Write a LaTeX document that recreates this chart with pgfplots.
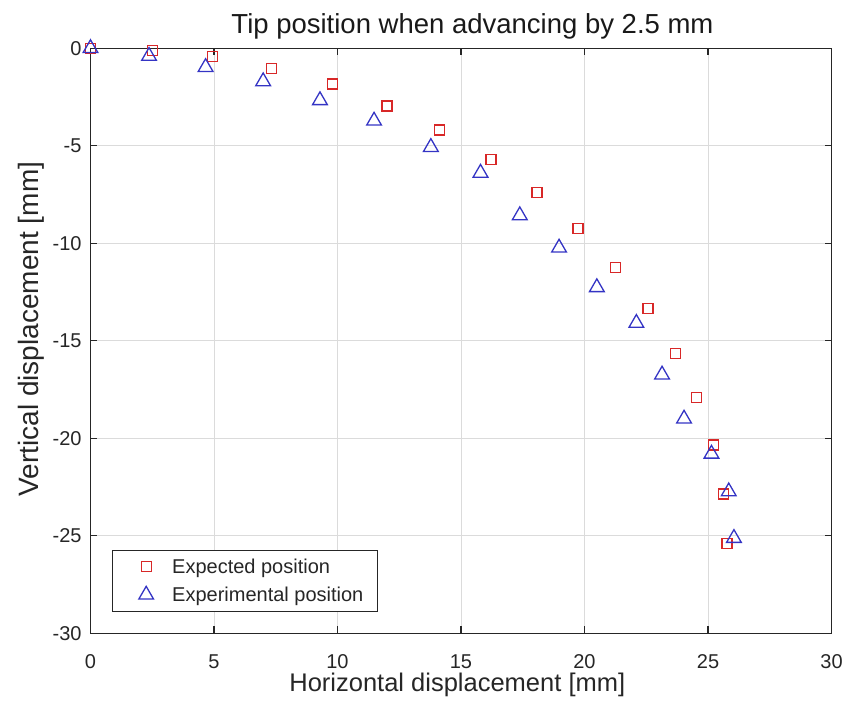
\documentclass[border=0pt]{standalone}
\usepackage{fontspec}
\setmainfont{Liberation Sans}
\usepackage{pgfplots}
\pgfplotsset{compat=1.18}
\definecolor{axgray}{HTML}{262626}
\definecolor{mred}{HTML}{D82828}
\definecolor{mblue}{HTML}{3434C4}
\begin{document}
\begin{tikzpicture}
\useasboundingbox (-90.5bp,-74.7bp) rectangle (766.5bp,633.3bp);
\begin{axis}[at={(0,0)},anchor=south west,scale only axis,width=741bp,height=585bp,
  xmin=0,xmax=30,ymin=-30,ymax=0,
  xtick={0,5,...,30},ytick={-30,-25,...,0},
  grid=major,grid style={gray!28,line width=0.8bp},
  axis line style={axgray,line width=1.2bp},
  tick style={axgray,line width=1.2bp},major tick length=7bp,tick align=inside,
  /pgf/number format/assume math mode=true,
  ticklabel style={font=\fontsize{20bp}{24bp}\selectfont,text=axgray},
  xticklabel style={anchor=base,inner sep=0pt,yshift=-34.7bp},
  yticklabel style={anchor=east,inner sep=0pt,xshift=-8.8bp},
  title={Tip position when advancing by 2.5 mm},
  title style={at={(axis description cs:0.5155,1)},anchor=base,yshift=9bp,font=\fontsize{27.5bp}{32bp}\selectfont,text=black!90},
  xlabel={Horizontal displacement [mm]},
  xlabel style={at={(axis description cs:0.495,0)},anchor=base,inner sep=0pt,yshift=-58.5bp,font=\fontsize{25.5bp}{30bp}\selectfont,text=axgray},
  ylabel={Vertical displacement [mm]},
  ylabel style={at={(axis description cs:-0.0695,0.52)},anchor=base,inner sep=0pt,font=\fontsize{28bp}{32bp}\selectfont,text=axgray},
  legend style={at={(0.0294,0.0369)},anchor=south west,draw=axgray,line width=1bp,
    font=\fontsize{20bp}{24bp}\selectfont,text=axgray,inner xsep=12.4bp,inner ysep=6.4bp,row sep=8.3bp},
  legend cell align=left,
  legend image code/.code={\path[draw=none,fill=none] (0bp,0bp) -- (45bp,0bp);
    \draw[#1] plot coordinates {(21bp,0bp)};},
]
\addplot[only marks,mark=square,mark size=5bp,mred,line width=1.35bp] coordinates {
(0,0) (2.50,-0.10) (4.93,-0.42) (7.33,-1.05) (9.79,-1.83) (12.00,-2.96) (14.12,-4.19)
(16.21,-5.69) (18.08,-7.38) (19.74,-9.23) (21.26,-11.24) (22.57,-13.33) (23.68,-15.64)
(24.53,-17.90) (25.21,-20.34) (25.64,-22.86) (25.77,-25.38)};
\addplot[only marks,mark=triangle,mark size=8.5bp,mblue,line width=1.3bp] coordinates {
(0,0) (2.37,-0.40) (4.66,-0.97) (6.99,-1.70) (9.29,-2.67) (11.48,-3.72) (13.78,-5.07)
(15.79,-6.39) (17.38,-8.57) (18.97,-10.23) (20.50,-12.26) (22.10,-14.09) (23.14,-16.74)
(24.03,-19.00) (25.14,-20.80) (25.84,-22.73) (26.05,-25.12)};
\legend{Expected position,Experimental position}
\end{axis}
\end{tikzpicture}
\end{document}
